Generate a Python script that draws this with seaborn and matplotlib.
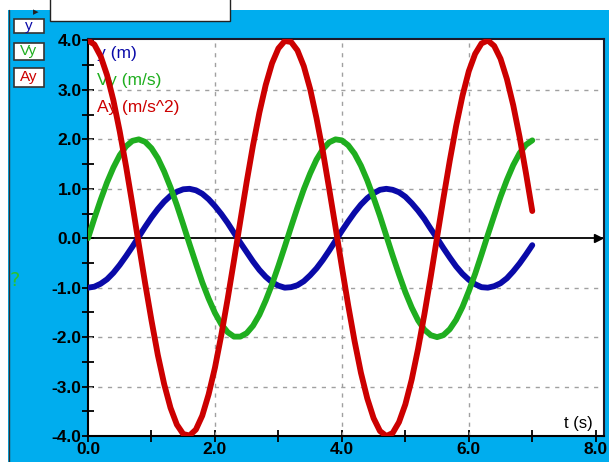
import numpy as np
import pandas as pd
import matplotlib
matplotlib.use('Agg')
import matplotlib.pyplot as plt
import matplotlib.patches as patches
from matplotlib.ticker import MultipleLocator
import seaborn as sns

t = [0.0, 0.1, 0.2, 0.3, 0.4, 0.5, 0.6, 0.7, 0.8, 0.9,
     1.0, 1.1, 1.2, 1.3, 1.4, 1.5, 1.6, 1.7, 1.8, 1.9,
     2.0, 2.1, 2.2, 2.3, 2.4, 2.5, 2.6, 2.7, 2.8, 2.9,
     3.0, 3.1, 3.2, 3.3, 3.4, 3.5, 3.6, 3.7, 3.8, 3.9,
     4.0, 4.1, 4.2, 4.3, 4.4, 4.5, 4.6, 4.7, 4.8, 4.9,
     5.0, 5.1, 5.2, 5.3, 5.4, 5.5, 5.6, 5.7, 5.8, 5.9,
     6.0, 6.1, 6.2, 6.3, 6.4, 6.5, 6.6, 6.7, 6.8, 6.9, 7.0]

y_m = [-1.00, -0.98, -0.92, -0.83, -0.70, -0.54, -0.36, -0.17, 0.03, 0.23,
       0.42, 0.59, 0.74, 0.86, 0.94, 0.99, 1.00, 0.97, 0.90, 0.79,
       0.65, 0.49, 0.31, 0.11, -0.09, -0.28, -0.47, -0.64, -0.78, -0.89,
       -0.96, -1.00, -0.99, -0.95, -0.87, -0.75, -0.61, -0.44, -0.25, -0.05,
       0.15, 0.34, 0.52, 0.68, 0.81, 0.91, 0.98, 1.00, 0.98, 0.93,
       0.84, 0.71, 0.56, 0.39, 0.19, 0.00, -0.20, -0.39, -0.57, -0.72,
       -0.84, -0.93, -0.99, -1.00, -0.97, -0.91, -0.81, -0.67, -0.51, -0.33, -0.14]

vy = [0.00, 0.40, 0.78, 1.13, 1.43, 1.68, 1.86, 1.97, 2.00, 1.95,
      1.82, 1.62, 1.35, 1.03, 0.67, 0.28, -0.12, -0.51, -0.89, -1.22,
      -1.51, -1.74, -1.90, -1.99, -1.99, -1.92, -1.77, -1.55, -1.26, -0.93,
      -0.56, -0.17, 0.23, 0.62, 0.99, 1.31, 1.59, 1.80, 1.94, 2.00,
      1.98, 1.88, 1.71, 1.47, 1.17, 0.82, 0.45, 0.05, -0.35, -0.73,
      -1.09, -1.40, -1.66, -1.85, -1.96, -2.00, -1.96, -1.84, -1.65, -1.39,
      -1.07, -0.72, -0.33, 0.07, 0.46, 0.84, 1.18, 1.48, 1.72, 1.89, 1.98]

ay = [4.00, 3.92, 3.68, 3.30, 2.79, 2.16, 1.45, 0.68, -0.12, -0.91,
      -1.66, -2.36, -2.95, -3.43, -3.77, -3.96, -3.99, -3.87, -3.59, -3.16,
      -2.62, -1.96, -1.23, -0.45, 0.35, 1.14, 1.88, 2.54, 3.10, 3.54,
      3.84, 3.99, 3.97, 3.80, 3.48, 3.02, 2.43, 1.76, 1.00, 0.22,
      -0.58, -1.36, -2.08, -2.72, -3.24, -3.64, -3.90, -4.00, -3.94, -3.72,
      -3.36, -2.86, -2.24, -1.54, -0.78, 0.02, 0.81, 1.57, 2.27, 2.88,
      3.38, 3.73, 3.94, 4.00, 3.89, 3.63, 3.22, 2.69, 2.05, 1.32, 0.55]

series_names = ['y (m)', 'Vy (m/s)', 'Ay (m/s^2)']
short_names = ['y', 'Vy', 'Ay']
colors = ['#0a0aa8', '#1fae1f', '#cc0000']

df = pd.DataFrame({'t': t * 3,
                   'value': y_m + vy + ay,
                   'series': [s for s in series_names for _ in t]})

sns.set_style('white')
plt.rcParams['font.family'] = ['Liberation Sans', 'DejaVu Sans']

W, H = 609, 462
fig = plt.figure(figsize=(W / 100, H / 100), dpi=100, facecolor='white')

# cyan window frame
fig.patches.append(patches.Rectangle((8 / W, 0), 1 - 8 / W, 1 - 10 / H,
                                     transform=fig.transFigure, facecolor='#00adee',
                                     edgecolor='none', zorder=-2))
fig.lines.append(plt.Line2D([8.5 / W, 8.5 / W], [0, 1 - 10 / H], transform=fig.transFigure,
                            color='#333333', lw=1, zorder=-1))
# title box at top (cut off)
fig.patches.append(patches.Rectangle((50 / W, 1 - 21 / H), 180 / W, 25 / H,
                                     transform=fig.transFigure, facecolor='white',
                                     edgecolor='#222222', lw=1, zorder=-1))
fig.text(33 / W, 1 - 12 / H, '\u25b8', color='#222222', fontsize=8, va='center')

left, right, top, bottom = 88, 604, 39, 436
ax = fig.add_axes([left / W, 1 - bottom / H, (right - left) / W, (bottom - top) / H])
ax.set_zorder(2)
ax.set_facecolor('white')

sns.lineplot(data=df, x='t', y='value', hue='series', palette=colors,
             linewidth=4.2, legend=False, ax=ax, zorder=3, sort=False)

ax.set_xlim(0, 8.13)
ax.set_ylim(-4, 4.03)
ax.set_xlabel('')
ax.set_ylabel('')

ax.xaxis.set_minor_locator(MultipleLocator(1))
ax.yaxis.set_minor_locator(MultipleLocator(0.5))
ax.set_xticks([0, 2, 4, 6, 8])
ax.set_xticklabels(['0.0', '2.0', '4.0', '6.0', '8.0'])
yt = [-4, -3, -2, -1, 0, 1, 2, 3, 4]
ax.set_yticks(yt)
ax.set_yticklabels(['%.1f' % v for v in yt])

ax.tick_params(which='both', direction='inout', length=9, width=1.3, color='black',
               bottom=True, left=True)
ax.tick_params(which='major', labelsize=12.5, labelcolor='black', pad=0)
for lab in ax.get_xticklabels() + ax.get_yticklabels():
    lab.set_fontweight('bold')

# dashed grid
for gx in [2, 4, 6]:
    ax.axvline(gx, color='#a0a0a0', ls=(0, (3, 4)), lw=1, zorder=1)
for gy in [-3, -2, -1, 1, 2, 3]:
    ax.axhline(gy, color='#a0a0a0', ls=(0, (3, 4)), lw=1, zorder=1)

# zero axis with arrow
ax.axhline(0, color='black', lw=1.3, zorder=2)
ax.plot([8.03], [0], marker='>', color='black', markersize=6, zorder=4, clip_on=False)

for side in ['left', 'bottom']:
    ax.spines[side].set_color('black')
    ax.spines[side].set_linewidth(1.5)
for side in ['top', 'right']:
    ax.spines[side].set_color('#1a1a2a')
    ax.spines[side].set_linewidth(1.5)

# labels inside plot
label_y = [3.74, 3.19, 2.65]
for name, c, yy in zip(series_names, colors, label_y):
    ax.text(0.14, yy, name, color=c, fontsize=12.5, va='center', ha='left', zorder=2)
ax.text(7.95, -3.75, 't (s)', color='black', fontsize=12, ha='right', va='center', zorder=2)

# series buttons on the left
box_y = [(19, 33), (43, 60), (68, 87)]
for name, c, (y0, y1) in zip(short_names, colors, box_y):
    fig.patches.append(patches.Rectangle((14 / W, 1 - y1 / H), 30 / W, (y1 - y0) / H,
                                         transform=fig.transFigure, facecolor='white',
                                         edgecolor='#333333', lw=1.2, zorder=-1))
    fig.text(29 / W, 1 - (y0 + y1) / 2 / H, name, color=c, fontsize=11,
             ha='center', va='center')

fig.text(15 / W, 1 - 281 / H, '?', color='#2cc22c', fontsize=14, ha='center', va='center',
         family='DejaVu Sans')

fig.savefig('out.png', dpi=100, facecolor=fig.get_facecolor())
